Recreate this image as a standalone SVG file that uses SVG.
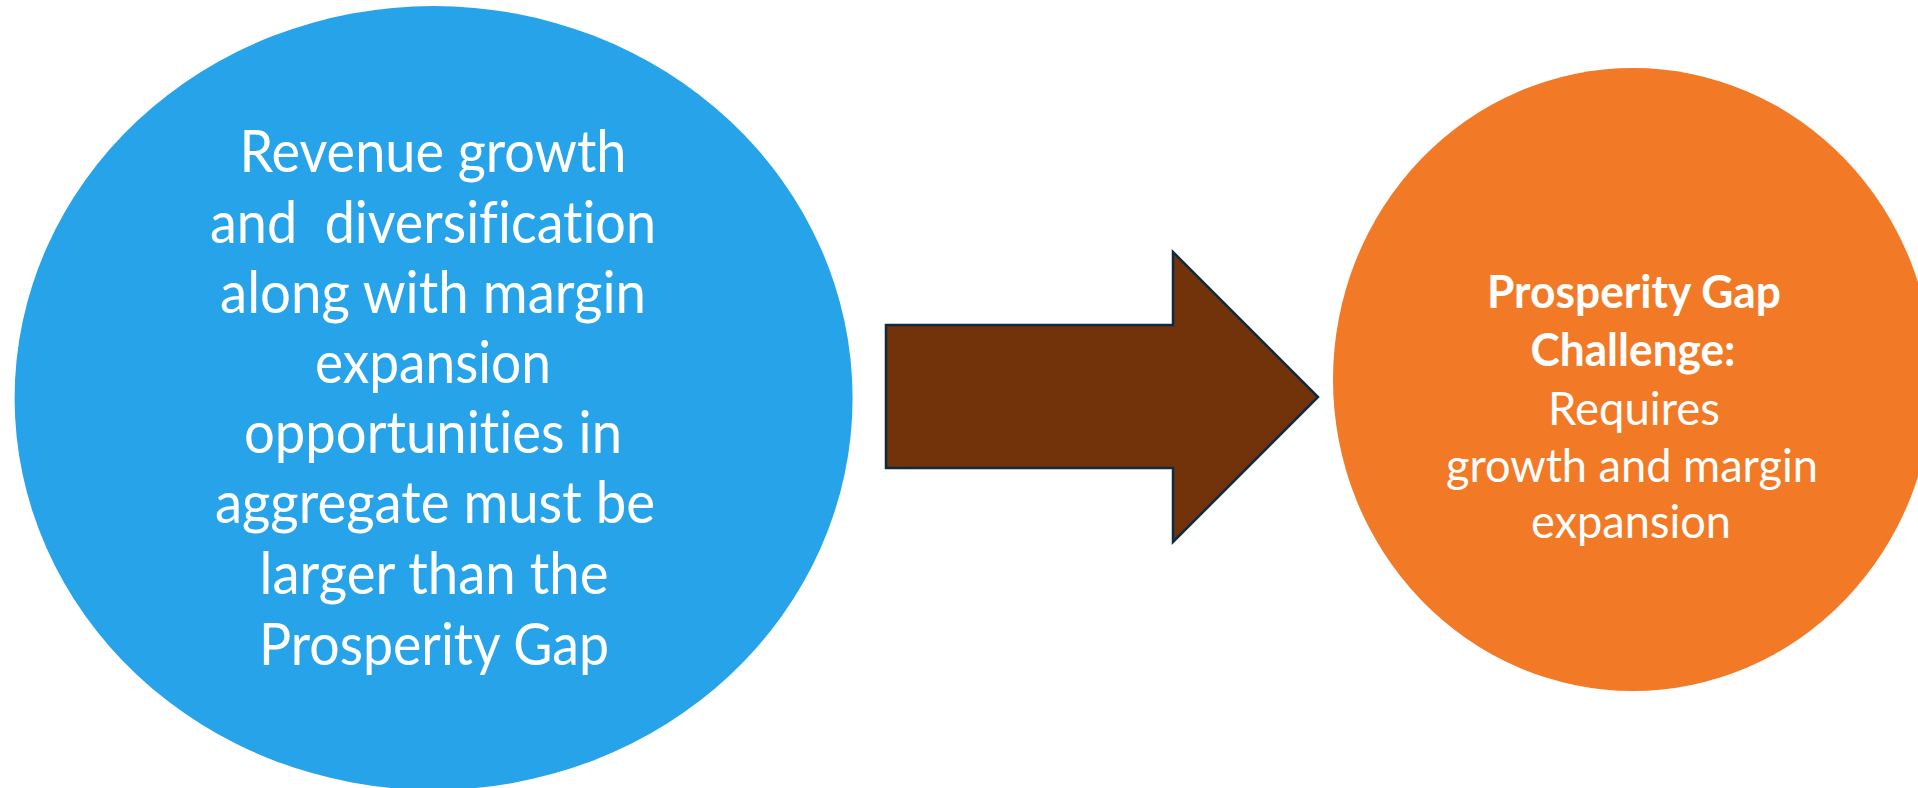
<svg xmlns="http://www.w3.org/2000/svg" width="1918" height="788" viewBox="0 0 1918 788">
<style>
.t{font-family:Lato,"Open Sans","Liberation Sans",sans-serif;fill:#ffffff;text-anchor:middle;font-variant-ligatures:none;font-feature-settings:"liga" 0,"clig" 0}
.b{font-size:57.7px}
.o{font-size:46px}
.bold{font-weight:bold}
</style>
<rect x="0" y="0" width="1918" height="788" fill="#ffffff"/>
<g id="node-revenue">
<ellipse cx="433.6" cy="398" rx="419" ry="392" fill="#27A4E9"/>
<text class="t b" xml:space="preserve"><tspan x="433" y="172" textLength="387" lengthAdjust="spacingAndGlyphs">Revenue growth</tspan><tspan x="433" y="243" textLength="446" lengthAdjust="spacingAndGlyphs">and  diversification</tspan><tspan x="433" y="313" textLength="426" lengthAdjust="spacingAndGlyphs">along with margin</tspan><tspan x="433" y="383" textLength="236" lengthAdjust="spacingAndGlyphs">expansion</tspan><tspan x="433" y="453" textLength="378" lengthAdjust="spacingAndGlyphs">opportunities in</tspan><tspan x="435" y="523" textLength="440" lengthAdjust="spacingAndGlyphs">aggregate must be</tspan><tspan x="434" y="594" textLength="349" lengthAdjust="spacingAndGlyphs">larger than the</tspan><tspan x="434" y="665" textLength="350" lengthAdjust="spacingAndGlyphs">Prosperity Gap</tspan></text>
</g>
<g id="connectors">
<polygon points="886,325 1173,325 1173,252 1318,397 1173,542 1173,468 886,468" fill="#72320A" stroke="#0E2A3F" stroke-width="2.5" stroke-linejoin="miter"/>
</g>
<g id="node-challenge">
<ellipse cx="1633" cy="379.5" rx="300" ry="311.5" fill="#F27A26"/>
<text class="t o"><tspan class="bold" x="1634" y="308" textLength="294" lengthAdjust="spacingAndGlyphs">Prosperity Gap</tspan><tspan class="bold" x="1633" y="366" textLength="205" lengthAdjust="spacingAndGlyphs">Challenge:</tspan><tspan x="1634" y="425" textLength="172" lengthAdjust="spacingAndGlyphs">Requires</tspan><tspan x="1632" y="482" textLength="372" lengthAdjust="spacingAndGlyphs">growth and margin</tspan><tspan x="1631" y="538" textLength="200" lengthAdjust="spacingAndGlyphs">expansion</tspan></text>
</g>
</svg>
